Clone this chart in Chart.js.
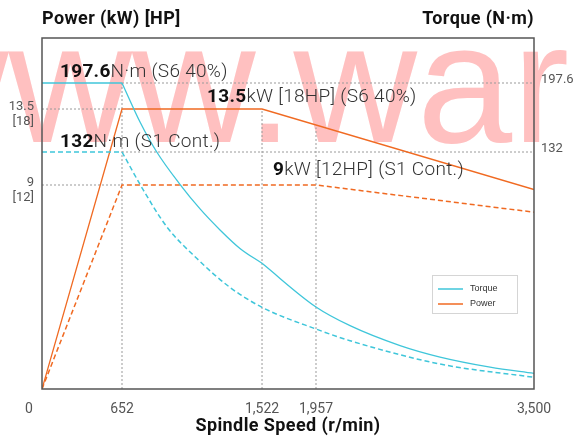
<!DOCTYPE html>
<html>
<head>
<meta charset="utf-8">
<script src="https://cdn.jsdelivr.net/npm/chart.js@4.4.0/dist/chart.umd.min.js"></script>
<style>
  html, body { margin: 0; padding: 0; background: #fff; }
</style>
</head>
<body>
<canvas id="spindleChart" width="573" height="445"></canvas>
<script>
// tick values
const speedTicks = [0, 652, 1522, 1957, 3500];   // r/min
const powerTicks = [9, 13.5];                    // kW
const hpTicks = [12, 18];                        // HP (under kW)
const torqueTicks = [132, 197.6];                // N·m

// power curves (kW)
const powerS6Speed = [0, 652, 1522, 3500];
const powerS6 = [0, 13.5, 13.5, 8.8];
const powerS1Speed = [0, 652, 1957, 3500];
const powerS1 = [0, 9, 9, 7.8];

// torque curves (N·m)
const torqueS6Speed = [0, 652, 764, 868, 1012, 1137, 1261, 1385, 1522, 1957, 2198, 2552, 2835, 3189, 3500];
const torqueS6 = [197.6, 197.6, 160.5, 132, 114, 100.3, 88.6, 78.3, 70, 45.7, 35.3, 24.2, 17.8, 12.2, 8.7];
const torqueS1Speed = [0, 652, 784, 930, 1116, 1323, 1522, 1957, 2198, 2835, 3500];
const torqueS1 = [132, 132, 110.9, 90.4, 72.8, 56.6, 45.5, 33.4, 26.9, 13.9, 6.5];

// S6 power where the 1,957 guide stops
const powerAt1957 = 12.4;

const cyan = '#3fc6da';
const orange = '#f06a22';
const guideGray = '#9a9a9a';

// the original is a schematic: axes are stretched between the labelled values
const anchorMap = {
    x: [[0, 0], [652, 0.1626], [1522, 0.4472], [1957, 0.5569], [3500, 1]],
    power: [[0, 0], [9, 0.5812], [13.5, 0.7977], [18, 1]],
    torque: [[0, 0], [132, 0.6752], [197.6, 0.8718], [240, 1]]
};

function mapThrough(list, v, from, to) {
    for (let i = 0; i < list.length - 1; i++) {
        const a = list[i], b = list[i + 1];
        if (v <= b[from] || i === list.length - 2) {
            return a[to] + (v - a[from]) * (b[to] - a[to]) / (b[from] - a[from]);
        }
    }
    return 0;
}

class AnchoredScale extends Chart.LinearScale {
    static id = 'anchored';
    static defaults = {};
    getPixelForValue(value) {
        if (value === null || isNaN(value)) return NaN;
        return this.getPixelForDecimal(mapThrough(anchorMap[this.id], value, 0, 1));
    }
    getValueForPixel(pixel) {
        return mapThrough(anchorMap[this.id], this.getDecimalForPixel(pixel), 1, 0);
    }
}
Chart.register(AnchoredScale);

// points between two speeds (inclusive)
function pts(speeds, values, from, to) {
    const out = [];
    speeds.forEach((s, i) => {
        if (s >= from && s <= to) out.push({ x: s, y: values[i] });
    });
    return out;
}

function line(data, axis, color, opts) {
    return Object.assign({
        data: data,
        yAxisID: axis,
        borderColor: color,
        borderWidth: 1.3,
        pointRadius: 0,
        fill: false,
        tension: 0
    }, opts || {});
}

const dashS1 = [5, 3];
const dotted = [2, 2];

const datasets = [
    // torque
    line(pts(torqueS6Speed, torqueS6, 0, 652), 'torque', cyan),
    line(pts(torqueS6Speed, torqueS6, 652, 1522), 'torque', cyan, { cubicInterpolationMode: 'monotone' }),
    line(pts(torqueS6Speed, torqueS6, 1522, 3500), 'torque', cyan, { cubicInterpolationMode: 'monotone' }),
    line(pts(torqueS1Speed, torqueS1, 0, 652), 'torque', cyan, { borderDash: dashS1, borderWidth: 1.5 }),
    line(pts(torqueS1Speed, torqueS1, 652, 3500), 'torque', cyan, { borderDash: dashS1, borderWidth: 1.5, cubicInterpolationMode: 'monotone' }),
    // power
    line(pts(powerS6Speed, powerS6, 0, 3500), 'power', orange),
    line(pts(powerS1Speed, powerS1, 0, 3500), 'power', orange, { borderDash: dashS1, borderWidth: 1.5 }),
    // guides
    line([{ x: speedTicks[1], y: torqueTicks[1] }, { x: speedTicks[4], y: torqueTicks[1] }], 'torque', guideGray, { borderDash: dotted, borderWidth: 1 }),
    line([{ x: speedTicks[1], y: torqueTicks[0] }, { x: speedTicks[4], y: torqueTicks[0] }], 'torque', guideGray, { borderDash: dotted, borderWidth: 1 }),
    line([{ x: 0, y: powerTicks[1] }, { x: speedTicks[1], y: powerTicks[1] }], 'power', guideGray, { borderDash: dotted, borderWidth: 1 }),
    line([{ x: 0, y: powerTicks[0] }, { x: speedTicks[1], y: powerTicks[0] }], 'power', guideGray, { borderDash: dotted, borderWidth: 1 }),
    line([{ x: speedTicks[1], y: 0 }, { x: speedTicks[1], y: torqueTicks[1] }], 'torque', guideGray, { borderDash: dotted, borderWidth: 1 }),
    line([{ x: speedTicks[2], y: 0 }, { x: speedTicks[2], y: powerTicks[1] }], 'power', guideGray, { borderDash: dotted, borderWidth: 1 }),
    line([{ x: speedTicks[3], y: 0 }, { x: speedTicks[3], y: powerAt1957 }], 'power', guideGray, { borderDash: dotted, borderWidth: 1 })
];

function rich(ctx, x, y, parts) {
    parts.forEach(([text, font, color]) => {
        ctx.font = font;
        ctx.fillStyle = color;
        ctx.fillText(text, x, y);
        x += ctx.measureText(text).width;
    });
}

const decor = {
    id: 'decor',
    beforeDraw(chart) {
        const ctx = chart.ctx;
        ctx.save();
        ctx.fillStyle = '#fff';
        ctx.fillRect(0, 0, chart.width, chart.height);
        // watermark
        ctx.font = '171px "Liberation Sans", Arial, sans-serif';
        ctx.fillStyle = '#ffc0c0';
        ctx.textBaseline = 'alphabetic';
        ctx.fillText('www.war', -115, 142);
        ctx.restore();
    },
    afterDraw(chart) {
        const ctx = chart.ctx;
        const a = chart.chartArea;
        const xs = chart.scales.x, ps = chart.scales.power, ts = chart.scales.torque;
        ctx.save();

        // frame
        ctx.strokeStyle = '#555';
        ctx.lineWidth = 1.5;
        ctx.strokeRect(a.left, a.top, a.right - a.left, a.bottom - a.top);

        // axis titles
        ctx.fillStyle = '#111';
        ctx.font = 'bold 18px Roboto, sans-serif';
        ctx.letterSpacing = '0.4px';
        ctx.textBaseline = 'alphabetic';
        ctx.textAlign = 'left';
        ctx.fillText('Power (kW) [HP]', a.left, 24);
        ctx.textAlign = 'right';
        ctx.fillText('Torque (N·m)', a.right, 24);
        ctx.textAlign = 'center';
        ctx.fillText('Spindle Speed (r/min)', 288, 431);
        ctx.letterSpacing = '0px';

        // x tick labels
        ctx.font = '14px Roboto, sans-serif';
        ctx.fillStyle = '#555';
        speedTicks.forEach(v => {
            const px = xs.getPixelForValue(v) - (v === 0 ? 13 : 0);
            ctx.fillText(v.toLocaleString('en-US'), px, 413);
        });

        // left ticks: kW and [HP]
        ctx.font = '13px Roboto, sans-serif';
        ctx.textAlign = 'right';
        powerTicks.forEach((v, i) => {
            const py = ps.getPixelForValue(v);
            ctx.fillText(String(v), 34, py + 1);
            ctx.fillText('[' + hpTicks[i] + ']', 34, py + 16);
        });

        // right ticks
        ctx.textAlign = 'left';
        torqueTicks.forEach(v => {
            ctx.fillText(String(v), a.right + 7, ts.getPixelForValue(v));
        });

        // callouts
        const bold = 'bold 19px Roboto, sans-serif';
        const reg = '300 19px Roboto, sans-serif';
        const dark = '#111', soft = '#333';
        ctx.letterSpacing = '0.3px';
        rich(ctx, 60, 77, [['197.6', bold, dark], ['N·m (S6 40%)', reg, soft]]);
        rich(ctx, 60, 147, [['132', bold, dark], ['N·m (S1 Cont.)', reg, soft]]);
        rich(ctx, 207, 102, [['13.5', bold, dark], ['kW [18HP] (S6 40%)', reg, soft]]);
        rich(ctx, 273, 175, [['9', bold, dark], ['kW [12HP] (S1 Cont.)', reg, soft]]);
        ctx.letterSpacing = '0px';

        // legend box
        ctx.strokeStyle = '#aaa';
        ctx.lineWidth = 1;
        ctx.setLineDash([1, 1]);
        ctx.strokeRect(432.5, 275.5, 85, 38);
        ctx.setLineDash([]);
        ctx.lineWidth = 1.5;
        [['Torque', cyan, 289], ['Power', orange, 304]].forEach(([label, color, y]) => {
            ctx.strokeStyle = color;
            ctx.beginPath();
            ctx.moveTo(438, y);
            ctx.lineTo(463, y);
            ctx.stroke();
            ctx.fillStyle = '#333';
            ctx.font = '9px "Liberation Sans", Arial, sans-serif';
            ctx.textBaseline = 'middle';
            ctx.fillText(label, 470, y);
        });
        ctx.restore();
    }
};

new Chart(document.getElementById('spindleChart').getContext('2d'), {
    type: 'line',
    data: { datasets: datasets },
    options: {
        responsive: false,
        animation: false,
        events: [],
        layout: { padding: { left: 42, right: 39, top: 38, bottom: 56 } },
        plugins: {
            legend: { display: false },
            tooltip: { enabled: false }
        },
        scales: {
            x: { type: 'anchored', min: 0, max: 3500, display: false },
            power: { type: 'anchored', position: 'left', min: 0, max: 18, display: false },
            torque: { type: 'anchored', position: 'right', min: 0, max: 240, display: false }
        }
    },
    plugins: [decor]
});
</script>
</body>
</html>
